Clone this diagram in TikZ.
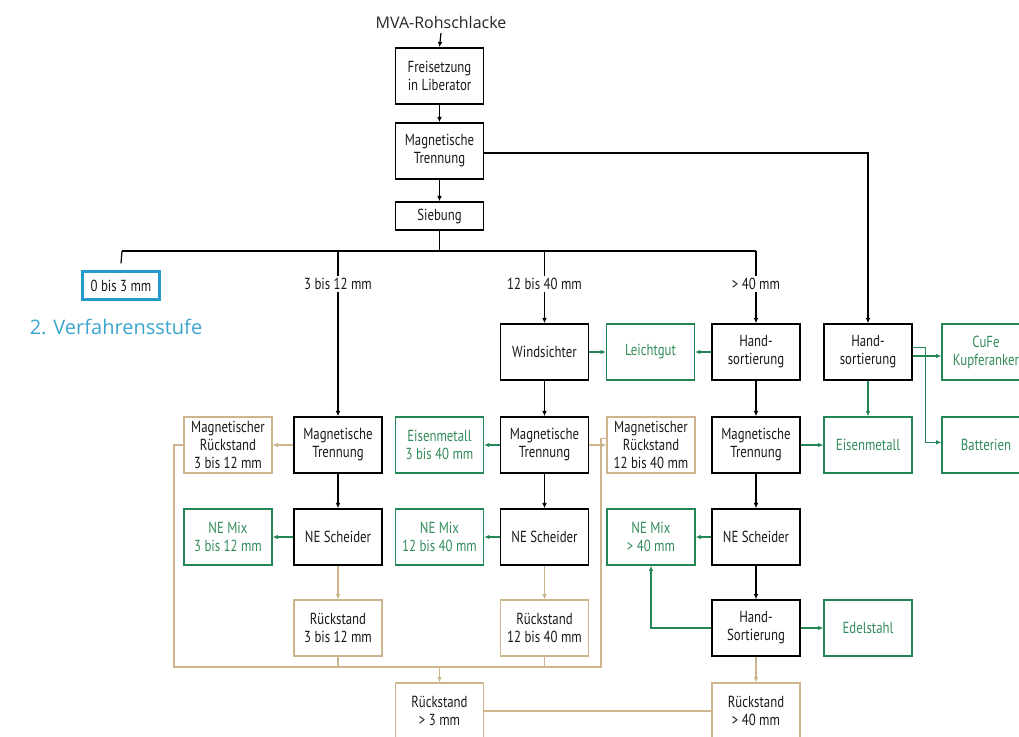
\documentclass[tikz,border=0pt]{standalone}
\usepackage{fontspec}
\setmainfont{PT Sans}[FakeStretch=0.8]
\newfontfamily\titlefont{Open Sans}
\usetikzlibrary{arrows.meta}

\definecolor{grn}{RGB}{35,135,85}
\definecolor{grntext}{RGB}{50,140,90}
\definecolor{restcol}{RGB}{205,180,140}
\definecolor{stufe}{RGB}{35,155,205}
\definecolor{stufetext}{RGB}{60,165,205}

\newcommand\boxfnt{\fontsize{12}{13.5}\selectfont}

\tikzset{
  procbox/.style={draw=black, line width=1.1pt, minimum width=66pt, minimum height=42pt,
    align=center, inner sep=2pt, text=black!90, font=\boxfnt},
  outbox/.style={procbox, draw=grn, line width=0.9pt, text=grntext},
  restbox/.style={procbox, draw=restcol, line width=0.8pt},
  flow/.style={draw=black, line width=0.9pt, -{Latex[length=4pt,width=3.5pt]}},
  outflow/.style={flow, draw=grn},
  restflow/.style={flow, draw=restcol, line width=0.8pt},
  restline/.style={draw=restcol, line width=0.8pt},
  sizelabel/.style={fill=white, inner sep=1.5pt, text=black!90, font=\boxfnt},
}

\begin{document}
\begin{tikzpicture}[x=0.75pt,y=0.75pt,yscale=-1,xscale=1]
\useasboundingbox (0,0) rectangle (1019,736);

% Input and first stage
\node (mva) at (441,22) [text=black!85, font=\titlefont\fontsize{12}{14}\selectfont] {MVA-Rohschlacke};
\node (frei) at (439.5,76) [procbox] {Freisetzung\\in Liberator};
\node (mt0) at (439.5,151) [procbox] {Magnetische\\Trennung};
\node (sieb) at (439.5,216) [procbox, minimum height=21pt] {Siebung};
\draw [flow] (mva.south) -- (frei.north);
\draw [flow] (frei.south) -- (mt0.north);
\draw [flow] (mt0.south) -- (sieb.north);

% Screening fractions
\coordinate (d0) at (122,251);
\coordinate (d1) at (338,251);
\coordinate (d2) at (544.5,251);
\coordinate (d3) at (756,251);
\draw [line width=0.9pt] (sieb.south) -- (sieb.south |- d0);
\draw [line width=0.9pt] (d0) -- (d3);

\node (b03) at (121,285.5) [draw=stufe, line width=2.2pt, minimum width=57.75pt, minimum height=21pt,
  inner sep=1pt, text=black!90, font=\boxfnt] {0 bis 3 mm};
\draw [line width=0.9pt] (d0) -- ([yshift=-5pt]b03.north);
\node (stufe2) at (116,327) [text=stufetext, font=\titlefont\fontsize{15}{18}\selectfont] {2. Verfahrensstufe};

% Row 1
\node (wind) at (544.5,352) [procbox] {Windsichter};
\node (leicht) at (650.5,352) [outbox] {Leichtgut};
\node (hs1) at (756,352) [procbox] {Hand-\\sortierung};
\node (hs2) at (868,352) [procbox] {Hand-\\sortierung};
\node (cufe) at (986,352) [outbox] {CuFe\\Kupferanker};

% Row 2
\node (mr1) at (228,445) [restbox] {Magnetischer\\Rückstand\\3 bis 12 mm};
\node (mt1) at (338,445) [procbox] {Magnetische\\Trennung};
\node (eis1) at (439.5,445) [outbox] {Eisenmetall\\3 bis 40 mm};
\node (mt2) at (544.5,445) [procbox] {Magnetische\\Trennung};
\node (mr2) at (651,445) [restbox] {Magnetischer\\Rückstand\\12 bis 40 mm};
\node (mt3) at (756,445) [procbox] {Magnetische\\Trennung};
\node (eis2) at (868,445) [outbox] {Eisenmetall};
\node (batt) at (986,445) [outbox] {Batterien};

% Row 3
\node (nem1) at (228,537) [outbox] {NE Mix\\3 bis 12 mm};
\node (nes1) at (338,537) [procbox] {NE Scheider};
\node (nem2) at (439.5,537) [outbox] {NE Mix\\12 bis 40 mm};
\node (nes2) at (544.5,537) [procbox] {NE Scheider};
\node (nem3) at (651,537) [outbox] {NE Mix\\> 40 mm};
\node (nes3) at (756,537) [procbox] {NE Scheider};

% Row 4
\node (r1) at (338,628) [restbox] {Rückstand\\3 bis 12 mm};
\node (r2) at (544.5,628) [restbox] {Rückstand\\12 bis 40 mm};
\node (hs3) at (756,628) [procbox] {Hand-\\Sortierung};
\node (edel) at (868,628) [outbox] {Edelstahl};

% Row 5
\node (r3) at (439.5,711) [restbox] {Rückstand\\> 3 mm};
\node (r4) at (756,711) [restbox] {Rückstand\\> 40 mm};

% Black flow
\draw [flow] (d1) -- (mt1.north);
\draw [flow] (d2) -- (wind.north);
\draw [flow] (d3) -- (hs1.north);
\draw [flow] ([yshift=1.5pt]mt0.east) -| (hs2.north);
\draw [flow] (wind.south) -- (mt2.north);
\draw [flow] (hs1.south) -- (mt3.north);
\draw [flow] (mt1.south) -- (nes1.north);
\draw [flow] (mt2.south) -- (nes2.north);
\draw [flow] (mt3.south) -- (nes3.north);
\draw [flow] (nes3.south) -- (hs3.north);

% Size labels on the branches
\node (l1) at (338,284) [sizelabel] {3 bis 12 mm};
\node (l2) at (544.5,284) [sizelabel] {12 bis 40 mm};
\node (l3) at (756,284) [sizelabel] {> 40 mm};

% Green products
\draw [outflow] (wind.east) -- (leicht.west);
\draw [outflow] (hs1.west) -- (leicht.east);
\draw [outflow] ([yshift=3pt]hs2.east) -- ([yshift=3pt]cufe.west);
\draw [outflow] ([yshift=-3.5pt]hs2.east) -- ++(13,0) |- ([yshift=-2pt]batt.west);
\draw [outflow] (hs2.south) -- (eis2.north);
\draw [outflow] (mt2.west) -- (eis1.east);
\draw [outflow] (mt3.east) -- (eis2.west);
\draw [outflow] (nes1.west) -- (nem1.east);
\draw [outflow] (nes2.west) -- (nem2.east);
\draw [outflow] (nes3.west) -- (nem3.east);
\draw [outflow] (hs3.east) -- (edel.west);
\draw [outflow] (hs3.west) -| (nem3.south);

% Residues
\coordinate (railL) at (174,667);
\coordinate (railR) at (601,667);
\draw [restflow] (mt1.west) -- (mr1.east);
\draw [restflow] (mt2.east) -- (mr2.west);
\draw [restflow] (nes1.south) -- (r1.north);
\draw [restflow] (nes2.south) -- (r2.north);
\draw [restflow] (hs3.south) -- (r4.north);
\draw [restline] (mr1.west) -| (railL) -- (railR) |- ([yshift=-5pt]mr2.west);
\draw [restline] (r1.south) -- (r1.south |- railL);
\draw [restline] (r2.south) -- (r2.south |- railL);
\draw [restflow] (r3.north |- railL) -- (r3.north);
\draw [restline] (r3.east) -- (r4.west);

\end{tikzpicture}
\end{document}
